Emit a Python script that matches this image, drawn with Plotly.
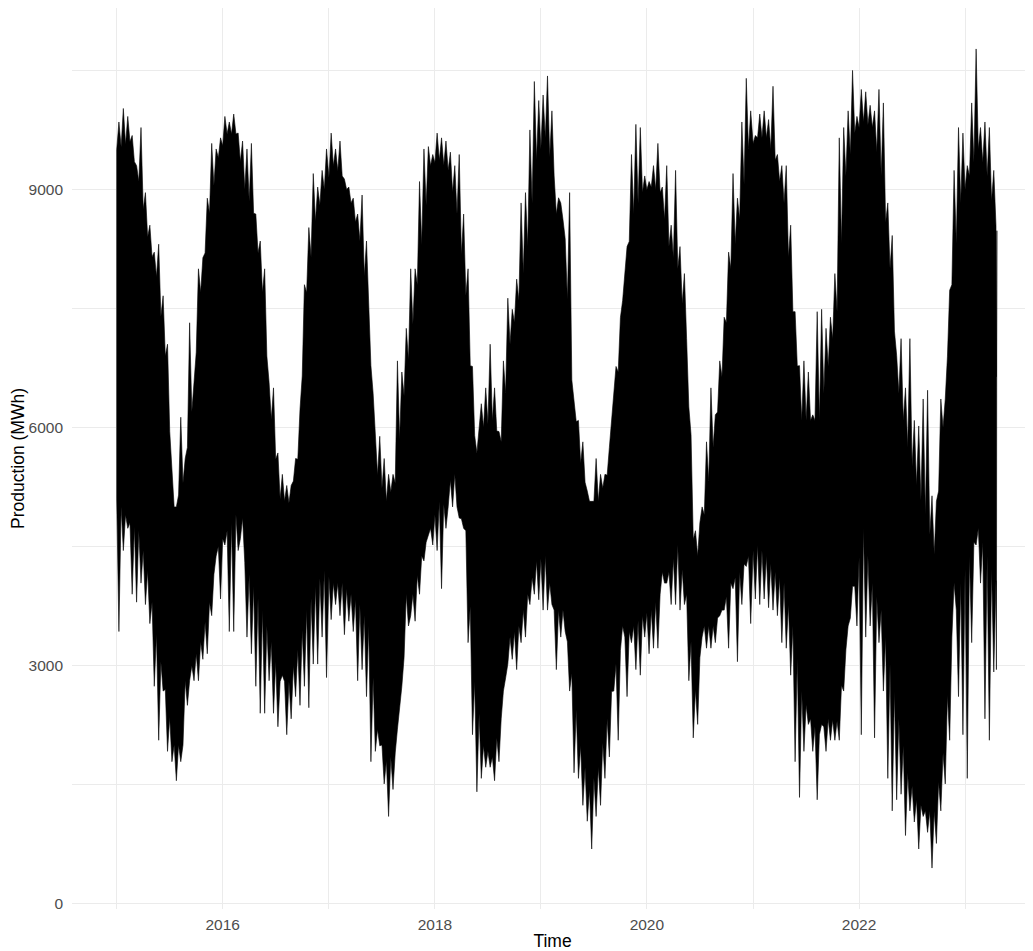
import numpy as np
import pandas as pd
import plotly.graph_objects as go

# ---------------- data ----------------
start_year = 2015.0          # first hourly value (2015-01-01)
end_year = 2023.30           # last hourly value (~2023-04-20)

# monthly upper / lower edge of the solid black band (MWh), Jan 2015 .. Apr 2023
core_hi = [
    9500, 9600, 9100, 8400, 7900, 6900, 5000, 5300, 6200, 7700, 8700, 9400,
    9700, 9700, 9000, 8700, 7700, 6100, 5100, 5050, 5600, 7700, 8600, 9000,
    9300, 9170, 8830, 8350, 7460, 5400, 5070, 5300, 6400, 7300, 8300, 9300,
    9370, 9240, 8690, 7660, 5900, 6000, 6090, 5820, 7050, 7600, 8280, 9370,
    9650, 9170, 8620, 6600, 5550, 5070, 5070, 5400, 6770, 8000, 8690, 8960,
    9030, 8960, 8280, 8000, 7120, 4700, 4900, 5750, 6640, 8000, 8620, 9510,
    9650, 9650, 9370, 8830, 7460, 6090, 6090, 6090, 6770, 7460, 9170, 9710,
    9850, 9780, 9170, 8000, 6430, 5750, 5270, 4900, 4400, 6000, 7800, 8830,
    9170, 9510, 9170, 8480,
]
core_lo = [
    5100, 4800, 4700, 4200, 3400, 2700, 2000, 2000, 3000, 3300, 3800, 4500,
    4700, 4900, 4300, 4000, 3700, 3300, 2800, 2800, 3200, 3700, 4000, 4200,
    4040, 4040, 3900, 3770, 3500, 2200, 1800, 1900, 3100, 3900, 4380, 4730,
    5070, 5000, 5000, 4700, 2800, 1990, 1850, 2330, 3360, 3500, 3900, 4320,
    4380, 3700, 3700, 2900, 1990, 1440, 1720, 2330, 3020, 3360, 3500, 3630,
    3700, 3900, 4180, 4520, 3900, 2700, 3500, 3500, 3700, 4040, 4180, 4380,
    4520, 4380, 4180, 4040, 3500, 2680, 2330, 2130, 2330, 2300, 3200, 4000,
    4730, 4040, 3700, 3020, 2330, 1650, 1310, 1170, 1170, 1900, 3360, 4040,
    4380, 4730, 4380, 4040,
]

# half-month extremes (highest / lowest spike tip) in MWh, Jan 2015 .. Apr 2023
tip_hi = [
    9850, 10020, 9920, 9680, 9300, 9780, 8960, 8550, 8210, 8310, 7660, 7050,
    5480, 5000, 6130, 5610, 7320, 6570, 8000, 8140, 8890, 9580, 9510, 9650,
    9920, 9850, 9950, 9710, 9610, 9510, 9580, 8690, 8350, 8000, 6570, 6500,
    5680, 5410, 5270, 5270, 5610, 6230, 7800, 8520, 9200, 9030, 9240, 9510,
    9710, 9510, 9610, 9130, 9030, 8890, 8690, 8930, 8350, 6780, 5820, 5890,
    5610, 5410, 5410, 6840, 6700, 7250, 8000, 8000, 9100, 9510, 9540, 9440,
    9710, 9650, 9610, 9470, 9300, 9440, 8690, 8000, 6770, 5680, 6300, 6500,
    7050, 6500, 5950, 6840, 7630, 7490, 7870, 8830, 8960, 9750, 10360, 10120,
    10190, 10430, 9990, 8690, 8830, 8380, 8960, 6360, 6090, 5820, 5200, 5070,
    5610, 5410, 5410, 5750, 6360, 6700, 7600, 8280, 9440, 9820, 9780, 9170,
    9100, 9300, 9580, 9030, 9300, 8550, 9240, 8280, 7940, 6260, 4590, 4380,
    5000, 5820, 6500, 6160, 6840, 7390, 8210, 9200, 8890, 9850, 10400, 9990,
    9680, 9950, 9990, 9880, 10300, 9440, 9300, 9300, 8550, 7460, 6780, 6840,
    6700, 6160, 7460, 7490, 7250, 7390, 7940, 9650, 9780, 9990, 10500, 9920,
    10260, 10230, 10060, 9990, 10260, 10090, 8830, 8420, 6910, 7120, 6500, 7120,
    6090, 6020, 6360, 6470, 5140, 5070, 6360, 6360, 7730, 9240, 9780, 9710,
    9300, 10090, 10770, 9780, 9850, 9780, 9240, 6640,
]
tip_lo = [
    3430, 4450, 4730, 3900, 3800, 4040, 3770, 3530, 2740, 2060, 2680, 1920,
    1790, 1550, 1790, 2810, 2810, 2810, 2810, 3080, 3150, 3630, 4380, 3840,
    4520, 3430, 3430, 4450, 4860, 3360, 3150, 2740, 2400, 2400, 2810, 2400,
    2230, 2880, 2130, 2330, 2610, 2500, 2740, 2470, 3020, 3020, 3360, 2850,
    3580, 3770, 3630, 3390, 3560, 3430, 2810, 2950, 2610, 1790, 1920, 1990,
    1510, 1100, 1440, 2200, 2740, 3900, 3630, 3560, 3900, 4320, 4650, 4520,
    4450, 3970, 4730, 5340, 5410, 4860, 4730, 3290, 2130, 1410, 1580, 1720,
    1720, 1550, 1790, 2680, 3020, 3080, 2950, 3290, 3360, 3770, 3900, 3830,
    3700, 3700, 3770, 2950, 3360, 3430, 2680, 1650, 1580, 1240, 1040, 690,
    1100, 1240, 1580, 1850, 2680, 2060, 3500, 2610, 3290, 2950, 2880, 3360,
    3150, 3220, 3220, 4180, 4040, 3770, 3770, 3700, 3770, 2810, 2090, 2260,
    3360, 3220, 3220, 3290, 3630, 3700, 3220, 3970, 3050, 3770, 4250, 3530,
    3840, 3770, 3840, 3730, 3700, 3630, 3290, 3220, 2880, 1790, 1340, 1920,
    2260, 1920, 1310, 2260, 1920, 2060, 2060, 2060, 2680, 3500, 4000, 3500,
    2130, 3360, 3500, 2090, 3290, 2680, 1580, 1170, 1310, 1380, 860, 1170,
    1030, 690, 1100, 900, 450, 760, 1170, 1510, 2060, 4040, 2610, 2130,
    1580, 3290, 4520, 4040, 2330, 2060, 2920, 2950,
]

y_tick_step = 3000
y_minor_step = 1500


# ---------------- positions ----------------
def year_to_date(y):
    yr = int(np.floor(y))
    return pd.Timestamp(yr, 1, 1) + pd.Timedelta(days=(y - yr) * 365.25)


n_months = len(core_hi)
month_pos = np.array([start_year + (k + 0.5) / 12 for k in range(n_months)])
month_pos[0] = start_year
month_pos[-1] = end_year

n_win = len(tip_hi)
bounds = np.array([start_year + j / 24 for j in range(n_win + 1)])
bounds[-1] = end_year
centers = (bounds[:-1] + bounds[1:]) / 2

b_hi = np.interp(bounds, month_pos, core_hi)
b_lo = np.interp(bounds, month_pos, core_lo)

up_x, up_y = [], []
for i in range(n_win):
    up_x += [bounds[i], centers[i]]
    up_y += [b_hi[i], tip_hi[i]]
up_x.append(bounds[-1])
up_y.append(b_hi[-1])

lo_x, lo_y = [], []
for i in range(n_win):
    lo_x += [bounds[i], centers[i]]
    lo_y += [b_lo[i], tip_lo[i]]
lo_x.append(bounds[-1])
lo_y.append(b_lo[-1])

poly_x = up_x + lo_x[::-1] + [up_x[0]]
poly_y = up_y + lo_y[::-1] + [up_y[0]]
poly_dates = [year_to_date(v) for v in poly_x]

fig = go.Figure()
fig.add_trace(go.Scatter(
    x=poly_dates, y=poly_y, mode="lines", fill="toself", fillcolor="black",
    line=dict(color="black", width=0.6), showlegend=False, hoverinfo="skip",
))

font_family = "Liberation Sans, Arial, sans-serif"
grid_col = "#EBEBEB"

fig.update_layout(
    width=1025, height=943,
    margin=dict(l=64, r=0, t=0, b=42),
    paper_bgcolor="white", plot_bgcolor="white",
    font=dict(family=font_family, color="black"),
    xaxis=dict(
        type="date",
        range=["2014-07-31", "2023-08-23"],
        tick0="2016-01-01", dtick="M24", tickformat="%Y",
        showgrid=True, gridcolor=grid_col, gridwidth=1,
        minor=dict(dtick="M12", tick0="2015-01-01", showgrid=True,
                   gridcolor=grid_col, gridwidth=1),
        zeroline=False, showline=False, ticks="",
        ticklabelstandoff=4,
        tickfont=dict(size=15.5, color="#4D4D4D", family=font_family),
        title=dict(text="Time", font=dict(size=17.5, color="black", family=font_family),
                   standoff=5),
        automargin=False,
    ),
    yaxis=dict(
        range=[-66, 11286],
        tick0=0, dtick=y_tick_step, tickformat="d",
        showgrid=True, gridcolor=grid_col, gridwidth=1,
        minor=dict(dtick=y_minor_step, tick0=0, showgrid=True, gridcolor=grid_col, gridwidth=1),
        zeroline=False, showline=False, ticks="",
        ticklabelstandoff=8,
        tickfont=dict(size=15.5, color="#4D4D4D", family=font_family),
        title=dict(text="Production (MWh)", font=dict(size=17.5, color="black", family=font_family),
                   standoff=2),
        automargin=False,
    ),
)

fig.write_html("out.html")
